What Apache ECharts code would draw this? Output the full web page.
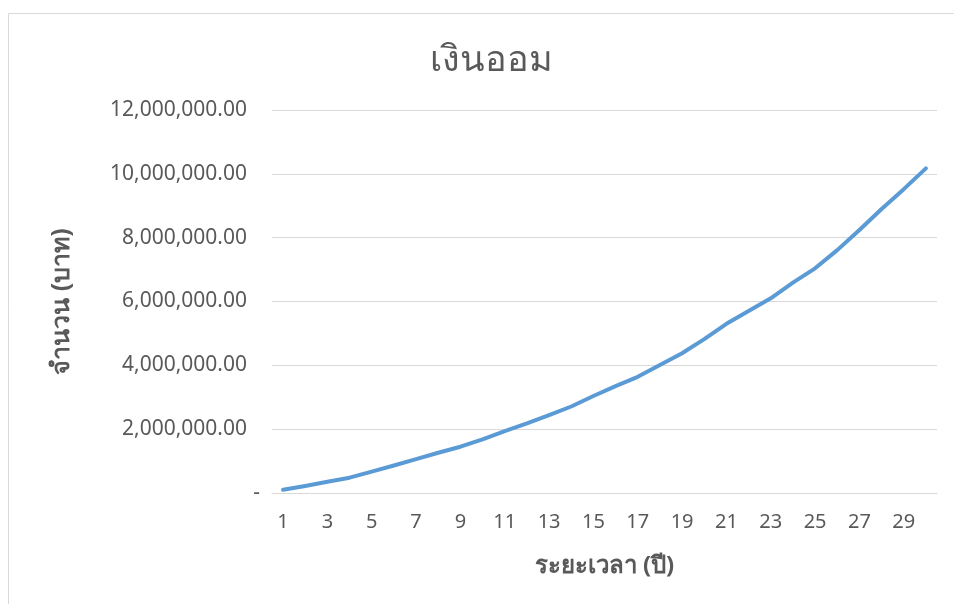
<!DOCTYPE html>
<html>
<head>
<meta charset="utf-8">
<title>เงินออม</title>
<script src="https://cdn.jsdelivr.net/npm/echarts@6/dist/echarts.min.js"></script>
<style>
  html, body { margin: 0; padding: 0; background: #ffffff; }
  #chart { width: 954px; height: 604px; }
</style>
</head>
<body>
<div id="chart"></div>
<script>
// Savings balance at the end of each year
const years = Array.from({ length: 30 }, (_, i) => String(i + 1));
const savings = [
  100000, 220000, 350000, 480000, 670000, 860000, 1060000, 1260000, 1450000, 1680000,
  1940000, 2180000, 2440000, 2710000, 3040000, 3350000, 3640000, 4010000, 4380000, 4820000,
  5300000, 5700000, 6100000, 6590000, 7040000, 7610000, 8240000, 8900000, 9520000, 10170000
];
const yTicks = { min: 0, max: 12000000, step: 2000000 };

const titleText = 'เงินออม';
const xName = 'ระยะเวลา (ปี)';
const yName = 'จำนวน (บาท)';

const FONT = "'Noto Sans', 'DejaVu Sans', sans-serif";
const GREY = '#595959';

function money(v) {
  return v.toLocaleString('en-US', { minimumFractionDigits: 2, maximumFractionDigits: 2 });
}

const chart = echarts.init(document.getElementById('chart'), null, { renderer: 'canvas' });
chart.setOption({
  backgroundColor: '#ffffff',
  animation: false,
  textStyle: { fontFamily: FONT },
  graphic: [{
    type: 'rect',
    silent: true,
    shape: { x: 8.5, y: 13.5, width: 1000, height: 700 },
    style: { fill: 'none', stroke: '#d9d9d9', lineWidth: 1 }
  }],
  title: {
    text: titleText,
    left: 486,
    textAlign: 'center',
    top: 38,
    textStyle: { color: GREY, fontSize: 36, fontWeight: 'normal', fontFamily: FONT }
  },
  grid: { left: 272, right: 17, top: 110, bottom: 111, containLabel: false },
  xAxis: {
    type: 'category',
    data: years,
    boundaryGap: true,
    name: xName,
    nameLocation: 'middle',
    nameGap: 61,
    nameTextStyle: { color: GREY, fontSize: 24, fontWeight: 'bold', fontFamily: FONT },
    axisLine: { show: true, lineStyle: { color: '#d9d9d9', width: 1 } },
    axisTick: { show: false },
    axisLabel: { interval: 1, color: GREY, fontSize: 20, margin: 19, fontFamily: FONT }
  },
  yAxis: {
    type: 'value',
    min: yTicks.min,
    max: yTicks.max,
    interval: yTicks.step,
    name: yName,
    nameLocation: 'middle',
    nameGap: 198,
    nameRotate: 90,
    nameTextStyle: { color: GREY, fontSize: 25, fontWeight: 'bold', fontFamily: FONT },
    axisLine: { show: false },
    axisTick: { show: false },
    splitLine: { lineStyle: { color: '#d9d9d9', width: 1 } },
    axisLabel: {
      color: GREY,
      fontSize: 21,
      margin: 12,
      fontFamily: FONT,
      formatter: v => v === 0 ? '{d|-}' : '{n|' + money(v) + '}',
      rich: {
        n: { color: GREY, fontSize: 21, fontFamily: FONT, padding: [0, 13, 0, 0] },
        d: { color: GREY, fontSize: 21, fontFamily: FONT }
      }
    }
  },
  series: [{
    type: 'line',
    data: savings,
    smooth: false,
    showSymbol: false,
    symbol: 'none',
    lineStyle: { color: '#5b9bd5', width: 4, cap: 'round', join: 'round' },
    itemStyle: { color: '#5b9bd5' }
  }]
});
</script>
</body>
</html>
